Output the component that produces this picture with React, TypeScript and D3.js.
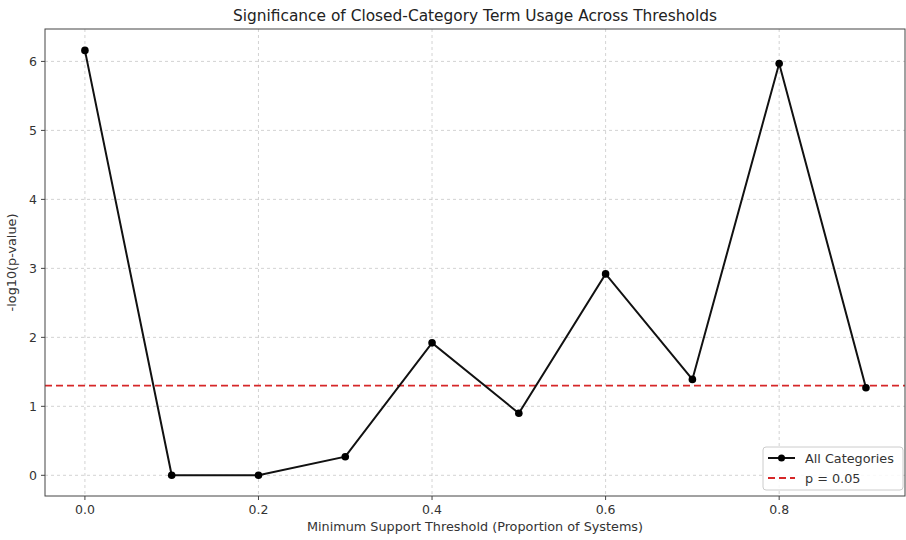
import React from "react";
import * as d3 from "d3";

const thresholds = [0.0, 0.1, 0.2, 0.3, 0.4, 0.5, 0.6, 0.7, 0.8, 0.9];
const negLogP = [6.16, 0.0, 0.0, 0.27, 1.92, 0.9, 2.92, 1.39, 5.97, 1.27];
const xTicks = [0.0, 0.2, 0.4, 0.6, 0.8];
const yTicks = [0, 1, 2, 3, 4, 5, 6];
const sigLevel = -Math.log10(0.05);

const W = 906;
const H = 540;
const M = { left: 45, right: 905, top: 29, bottom: 496 };
const FONT = "DejaVu Sans, sans-serif";

export default function App() {
  const x = d3.scaleLinear().domain([-0.046, 0.945]).range([M.left, M.right]);
  const y = d3.scaleLinear().domain([-0.3, 6.47]).range([M.bottom, M.top]);
  const line = d3
    .line<number>()
    .x((_, i) => x(thresholds[i]))
    .y((d) => y(d));

  return (
    <svg
      width={W}
      height={H}
      style={{ position: "absolute", left: 0, top: 0, background: "#fff" }}
      fontFamily={FONT}
    >
      <rect x={0} y={0} width={W} height={H} fill="#fff" />
      {/* grid */}
      {xTicks.map((t) => (
        <line
          key={"gx" + t}
          x1={x(t)}
          x2={x(t)}
          y1={M.top}
          y2={M.bottom}
          stroke="#c8c8c8"
          strokeWidth={0.8}
          strokeDasharray="3,3"
        />
      ))}
      {yTicks.map((t) => (
        <line
          key={"gy" + t}
          x1={M.left}
          x2={M.right}
          y1={y(t)}
          y2={y(t)}
          stroke="#c8c8c8"
          strokeWidth={0.8}
          strokeDasharray="3,3"
        />
      ))}
      {/* significance line */}
      <line
        x1={M.left}
        x2={M.right}
        y1={y(sigLevel)}
        y2={y(sigLevel)}
        stroke="#d62728"
        strokeWidth={1.8}
        strokeDasharray="7,4"
      />
      {/* data line */}
      <path d={line(negLogP) || ""} fill="none" stroke="#111" strokeWidth={2} />
      {negLogP.map((v, i) => (
        <circle key={"p" + i} cx={x(thresholds[i])} cy={y(v)} r={3.8} fill="#000" />
      ))}
      {/* spines */}
      <rect
        x={M.left}
        y={M.top}
        width={M.right - M.left}
        height={M.bottom - M.top}
        fill="none"
        stroke="#444"
        strokeWidth={1}
      />
      {/* ticks */}
      {xTicks.map((t) => (
        <g key={"tx" + t}>
          <line x1={x(t)} x2={x(t)} y1={M.bottom} y2={M.bottom + 4} stroke="#444" />
          <text x={x(t)} y={M.bottom + 18} textAnchor="middle" fontSize={12.5} fill="#333">
            {t.toFixed(1)}
          </text>
        </g>
      ))}
      {yTicks.map((t) => (
        <g key={"ty" + t}>
          <line x1={M.left - 4} x2={M.left} y1={y(t)} y2={y(t)} stroke="#444" />
          <text x={M.left - 8} y={y(t) + 4.5} textAnchor="end" fontSize={12.5} fill="#333">
            {t}
          </text>
        </g>
      ))}
      {/* labels */}
      <text x={(M.left + M.right) / 2} y={21} textAnchor="middle" fontSize={15.4} fill="#222">
        Significance of Closed-Category Term Usage Across Thresholds
      </text>
      <text x={(M.left + M.right) / 2} y={531} textAnchor="middle" fontSize={12.8} fill="#333">
        Minimum Support Threshold (Proportion of Systems)
      </text>
      <text
        transform={`translate(16,${(M.top + M.bottom) / 2}) rotate(-90)`}
        textAnchor="middle"
        fontSize={12.8}
        fill="#333"
      >
        -log10(p-value)
      </text>
      {/* legend */}
      <g>
        <rect x={763} y={447} width={140} height={43} rx={3} fill="#fff" fillOpacity={0.85} stroke="#ccc" />
        <line x1={768} x2={795} y1={458} y2={458} stroke="#111" strokeWidth={2} />
        <circle cx={781.5} cy={458} r={3.5} fill="#000" />
        <text x={805} y={462.5} fontSize={12.8} fill="#333">
          All Categories
        </text>
        <line x1={768} x2={795} y1={478} y2={478} stroke="#d62728" strokeWidth={1.8} strokeDasharray="7,4" />
        <text x={805} y={482.5} fontSize={12.8} fill="#333">
          p = 0.05
        </text>
      </g>
    </svg>
  );
}
